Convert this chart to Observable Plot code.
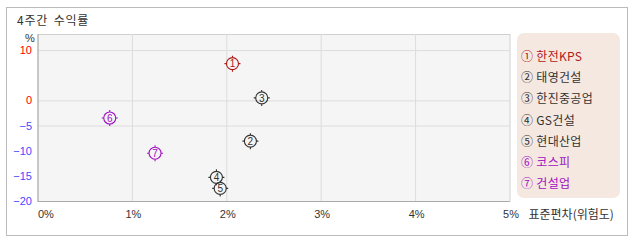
<!DOCTYPE html>
<html><head><meta charset="utf-8">
<script src="https://cdn.jsdelivr.net/npm/d3@7"></script>
<script src="https://cdn.jsdelivr.net/npm/@observablehq/plot@0.6"></script>
<style>
body{margin:0;background:#fff;}
#wrap{position:relative;width:638px;height:242px;font-family:"Noto Sans CJK KR","Noto Sans",sans-serif;color:#333;}
#frame{position:absolute;left:6px;top:7px;width:620px;height:227px;border:1px solid #bbb;}
#title{position:absolute;left:17px;top:11px;font-size:12px;line-height:18px;color:#333;letter-spacing:0.8px;word-spacing:2px;}
#chart{position:absolute;left:0;top:0;}
#legend{position:absolute;left:517px;top:33px;width:103px;height:165px;background:#f5e8e1;border-radius:7px;box-sizing:border-box;padding-top:12px;padding-left:4px;}
#legend div{font-size:12px;line-height:21.2px;height:21.2px;white-space:nowrap;letter-spacing:0.3px;}
</style></head><body>
<div id="wrap"><div id="frame"></div><div id="title">4주간 수익률</div><div id="chart"></div><div id="legend"></div></div>
<script>
const labels = ["①","②","③","④","⑤","⑥","⑦"];
const digits = ["1","2","3","4","5","6","7"];
const names = ["한전KPS","태영건설","한진중공업","GS건설","현대산업","코스피","건설업"];
const groups = ["highlight","stock","stock","stock","stock","market","market"];
const stdev = [2.06, 2.25, 2.37, 1.89, 1.93, 0.76, 1.24];
const returns = [7.4, -8.0, 0.6, -15.2, -17.4, -3.4, -10.4];
const xTicks = [0, 1, 2, 3, 4, 5];
const yTicksPos = [10, 0];
const yTicksNeg = [-5, -10, -15, -20];
const xGrid = [1, 2, 3, 4];
const yGrid = [10, 0, -5];
const groupDomain = ["highlight","stock","market"];
const groupColors = ["#b01818","#333333","#a010c0"];

const data = names.map((n,i)=>({name:n, label:labels[i], digit:digits[i], group:groups[i], x:stdev[i], y:returns[i]}));

const ringTick = {
  draw(ctx, size){
    const r = Math.sqrt(size/Math.PI);
    ctx.moveTo(r,0); ctx.arc(0,0,r,0,2*Math.PI);
    ctx.moveTo(0,-r); ctx.lineTo(0,-r-2);
    ctx.moveTo(0,r); ctx.lineTo(0,r+2);
    ctx.moveTo(-r,0); ctx.lineTo(-r-2,0);
    ctx.moveTo(r,0); ctx.lineTo(r+2,0);
  }
};

const tickFont = {fontFamily:"Liberation Sans, Arial, sans-serif", fontSize:11};

const chart = Plot.plot({
  width:638, height:242,
  marginLeft:37.5, marginRight:128.5, marginTop:34, marginBottom:41,
  x:{domain:[0,5], axis:null},
  y:{domain:[-20,13.2], axis:null},
  color:{domain:groupDomain, range:groupColors},
  style:{background:"transparent", overflow:"visible"},
  marks:[
    Plot.frame({fill:"#f5f5f5", stroke:"#d0d0d0"}),
    Plot.ruleX(xGrid, {x:d=>d, stroke:"#dcdcdc"}),
    Plot.ruleY(yGrid, {y:d=>d, stroke:"#dcdcdc"}),
    Plot.ruleX([0], {x:d=>d, stroke:"#aaaaaa"}),
    Plot.ruleY([-20], {y:d=>d, stroke:"#aaaaaa"}),
    Plot.text(xTicks.filter(d=>d===0), {x:d=>d, text:d=>d+"%", frameAnchor:"bottom", dy:16, textAnchor:"start", fill:"#333", ...tickFont}),
    Plot.text(xTicks.filter(d=>d>0), {x:d=>d, text:d=>d+"%", frameAnchor:"bottom", dy:16, dx:1, fill:"#333", ...tickFont}),
    Plot.text(yTicksPos, {y:d=>d, text:d=>String(d), frameAnchor:"left", dx:-6, textAnchor:"end", fill:"#ff0000", ...tickFont}),
    Plot.text(yTicksNeg, {y:d=>d, text:d=>"−"+Math.abs(d), frameAnchor:"left", dx:-6, textAnchor:"end", fill:"#4848ff", ...tickFont}),
    Plot.text(["%"], {text:d=>d, frameAnchor:"top-left", dx:-13, dy:0, fill:"#333", ...tickFont}),
    Plot.text(["표준편차(위험도)"], {text:d=>d, frameAnchor:"bottom-right", dx:18.5, dy:17, textAnchor:"start", fill:"#333", fontSize:12, fontFamily:"Noto Sans CJK KR", letterSpacing:"0.4px"}),
    Plot.dot(data, {x:"x", y:"y", stroke:"group", symbol:ringTick, r:6, strokeWidth:1.1, fill:"none"}),
    Plot.text(data, {x:"x", y:"y", text:"digit", fill:"group", fontSize:10, fontFamily:"Liberation Sans, Arial, sans-serif", dy:0.5})
  ]
});
document.getElementById("chart").appendChild(chart);

const leg = document.getElementById("legend");
data.forEach((d,i)=>{
  const el = document.createElement("div");
  el.textContent = d.label + " " + d.name;
  el.style.color = groupColors[groupDomain.indexOf(d.group)];
  leg.appendChild(el);
});
</script>
</body></html>
